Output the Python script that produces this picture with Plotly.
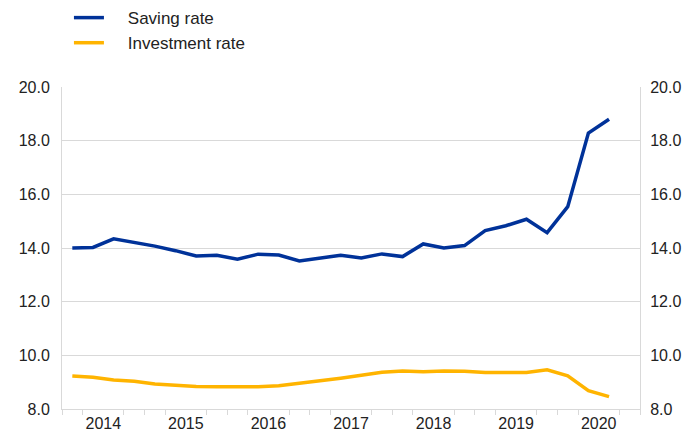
import plotly.graph_objects as go

quarters = [f"{y}Q{q}" for y in range(2014, 2021) for q in range(1, 5)][:27]
saving_rate = [14.00, 14.02, 14.34, 14.22, 14.07, 13.90, 13.70, 13.73, 13.58, 13.77,
               13.74, 13.52, 13.63, 13.73, 13.63, 13.78, 13.68, 14.15, 14.00, 14.09,
               14.65, 14.83, 15.07, 14.57, 15.54, 18.28, 18.80]
investment_rate = [9.23, 9.18, 9.08, 9.03, 8.93, 8.87, 8.84, 8.83, 8.83, 8.83,
                   8.87, 8.95, 9.05, 9.15, 9.27, 9.37, 9.42, 9.39, 9.42, 9.41,
                   9.36, 9.36, 9.36, 9.46, 9.24, 8.68, 8.46]
series_names = ["Saving rate", "Investment rate"]
years = [2014, 2015, 2016, 2017, 2018, 2019, 2020]
year_labels = [str(y) for y in years]
y_ticks = [8, 10, 12, 14, 16, 18, 20]

# numeric x: centre of each quarter
x = [int(s[:4]) + (int(s[-1]) - 0.5) / 4 for s in quarters]
minor_ticks = sorted(set(y + q / 4 for y in years for q in range(0, 5) if q != 2))
pad = "\u00a0" * 4

fig = go.Figure()
fig.add_trace(go.Scatter(x=x, y=saving_rate, mode="lines", name=pad + series_names[0],
                         line=dict(color="#003299", width=3.5)))
fig.add_trace(go.Scatter(x=x, y=investment_rate, mode="lines", name=pad + series_names[1],
                         yaxis="y2", line=dict(color="#FFB400", width=3.5)))

font = dict(family="Liberation Sans, Arial, sans-serif", size=16, color="#222222")
grid = "#d9d9d9"
fig.update_layout(
    width=687, height=434,
    margin=dict(l=62, r=47, t=87, b=25, autoexpand=False),
    plot_bgcolor="white", paper_bgcolor="white",
    font=font,
    showlegend=True,
    legend=dict(x=0.012, y=1.27, xanchor="left", yanchor="top",
                font=dict(size=17, color="#222222", family="Liberation Sans, Arial, sans-serif"),
                bgcolor="rgba(0,0,0,0)", tracegroupgap=0),
    xaxis=dict(range=[2014, 2021], tickmode="array",
               tickvals=[y + 0.5 for y in years], ticktext=year_labels,
               ticks="", showgrid=False, zeroline=False, automargin=False,
               showline=True, linecolor=grid, linewidth=1,
               minor=dict(tickmode="array", tickvals=minor_ticks, ticks="outside",
                          ticklen=5, tickcolor=grid, showgrid=False),
               tickfont=font),
    yaxis=dict(range=[8, 20], tickmode="array", tickvals=y_ticks,
               ticktext=[f"{v:.1f}" for v in y_ticks], automargin=False,
               showgrid=True, gridcolor=grid, gridwidth=1, zeroline=False,
               showline=True, linecolor=grid, ticks="", ticklabelstandoff=8,
               tickfont=font),
    yaxis2=dict(range=[8, 20], overlaying="y", side="right", tickmode="array",
                tickvals=y_ticks, ticktext=[f"{v:.1f}" for v in y_ticks],
                showgrid=False, zeroline=False, showline=True, linecolor=grid,
                automargin=False, ticks="", ticklabelstandoff=6, tickfont=font),
)
fig.write_html(
    "out.html",
    config={"displayModeBar": False},
    post_script="document.body.style.margin='0';document.body.style.overflow='hidden';",
)
